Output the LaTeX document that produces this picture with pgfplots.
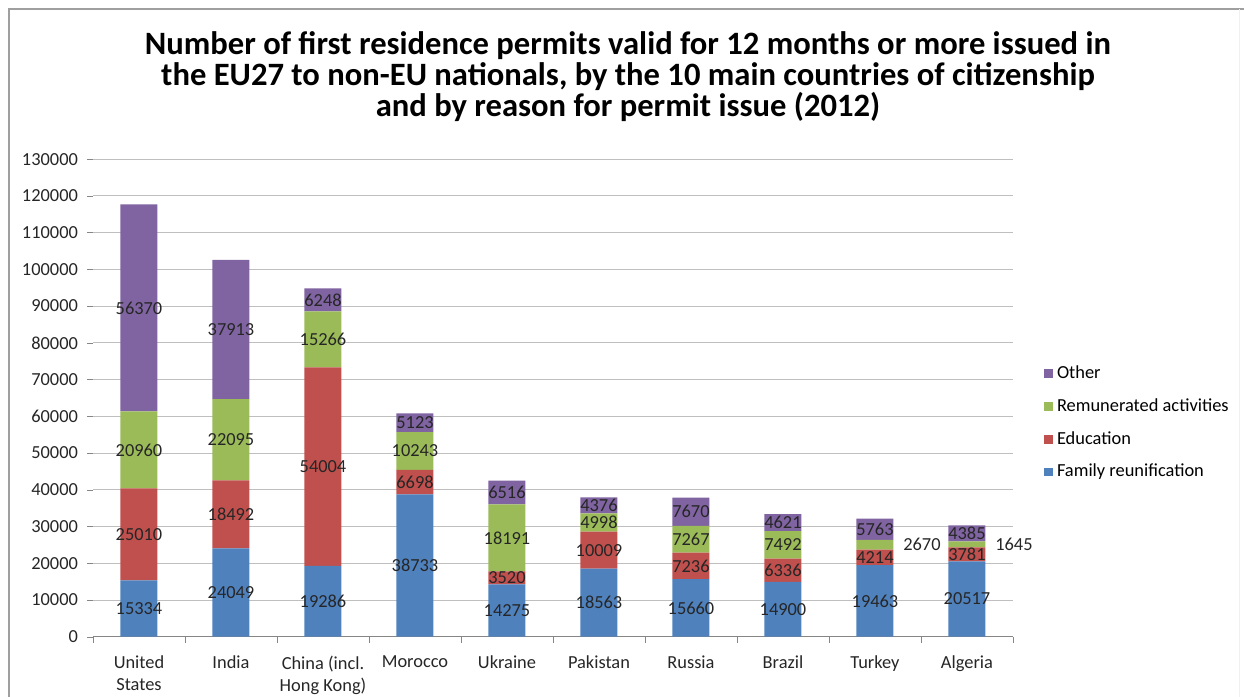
\documentclass[border=0pt]{standalone}
\usepackage{pgfplots}
\pgfplotsset{compat=1.18}
\usepackage{pgfplotstable}
\usepackage{fontspec}
\setmainfont{Carlito}

\definecolor{famblue}{HTML}{4F81BD}
\definecolor{edured}{HTML}{C0504D}
\definecolor{remgreen}{HTML}{9BBB59}
\definecolor{othpurple}{HTML}{8064A2}
\definecolor{gridgray}{HTML}{BFBFBF}
\definecolor{axisgray}{HTML}{868686}

% permits by reason, 10 main countries of citizenship (2012)
\pgfplotstableread{
idx fam   edu   rem   oth
0   15334 25010 20960 56370
1   24049 18492 22095 37913
2   19286 54004 15266 6248
3   38733 6698  10243 5123
4   14275 3520  18191 6516
5   18563 10009 4998  4376
6   15660 7236  7267  7670
7   14900 6336  7492  4621
8   19463 4214  2670  5763
9   20517 3781  1645  4385
}\permits

\pgfplotsset{
  sqlegend/.style={legend image code/.code={\fill[##1] (0pt,-2.2pt) rectangle (4.4pt,2.2pt);}},
}

\begin{document}
\begin{tikzpicture}
\useasboundingbox (0,0) rectangle (622pt,348.5pt);
\draw[gray!75, line width=1pt] (4.5pt,0) -- (4.5pt,344pt) -- (622pt,344pt);
\draw[gray!12] (619.5pt,0) -- (619.5pt,344pt);
\node[font=\bfseries\fontsize{16.3}{15.5}\selectfont, align=center] at (314pt,310pt)
  {Number of first residence permits valid for 12 months or more issued in\\
   the EU27 to non-EU nationals, by the 10 main countries of citizenship\\
   and by reason for permit issue (2012)};
\begin{axis}[
  at={(46.5pt,30.15pt)}, anchor=south west,
  scale only axis, width=460pt, height=238.8pt,
  ybar stacked, bar width=18.5pt,
  xmin=-0.5, xmax=9.5, ymin=0, ymax=130000,
  enlargelimits=false,
  axis x line*=bottom, axis y line*=left,
  x axis line style={-, draw=axisgray},
  y axis line style={draw=none},
  xtick={0,...,9},
  xticklabels={{United\\States}, India, {China (incl.\\Hong Kong)}, Morocco, Ukraine, Pakistan, Russia, Brazil, Turkey, Algeria},
  minor xtick={-0.5,0.5,...,9.5},
  major x tick style={draw=none},
  minor x tick style={draw=axisgray},
  ytick={0,10000,...,130000},
  yticklabels={0,10000,20000,30000,40000,50000,60000,70000,80000,90000,100000,110000,120000,130000},
  y tick style={draw=axisgray},
  tick align=outside,
  major tick length=3pt, minor tick length=3pt,
  ymajorgrids, grid style={gridgray},
  scaled y ticks=false,
  tick label style={font=\fontsize{9.2}{11}\selectfont, text=black!85},
  xticklabel style={align=center, yshift=-3pt},
  yticklabel style={xshift=-1pt},
  reverse legend,
  legend style={at={(1.027,0.585)}, anchor=north west, draw=none, fill=none,
    font=\fontsize{9.2}{11}\selectfont, row sep=4.5pt, cells={anchor=west}},
  point meta=explicit symbolic,
  nodes near coords={\pgfplotspointmeta},
  every node near coord/.append style={anchor=center,
    font=\fontsize{9.2}{11}\selectfont, text=black!85},
]
\addplot[fill=famblue, draw=none, sqlegend] table[x=idx, y=fam, meta=fam] {\permits};
\addlegendentry{Family reunification}
\addplot[fill=edured, draw=none, sqlegend] table[x=idx, y=edu, meta=edu] {\permits};
\addlegendentry{Education}
\addplot[fill=remgreen, draw=none, sqlegend,
  visualization depends on=x \as \myx,
  every node near coord/.append style={xshift={(\myx>7.5)*23.5pt}}] table[x=idx, y=rem, meta=rem] {\permits};
\addlegendentry{Remunerated activities}
\addplot[fill=othpurple, draw=none, sqlegend] table[x=idx, y=oth, meta=oth] {\permits};
\addlegendentry{Other}
\end{axis}
\end{tikzpicture}
\end{document}
